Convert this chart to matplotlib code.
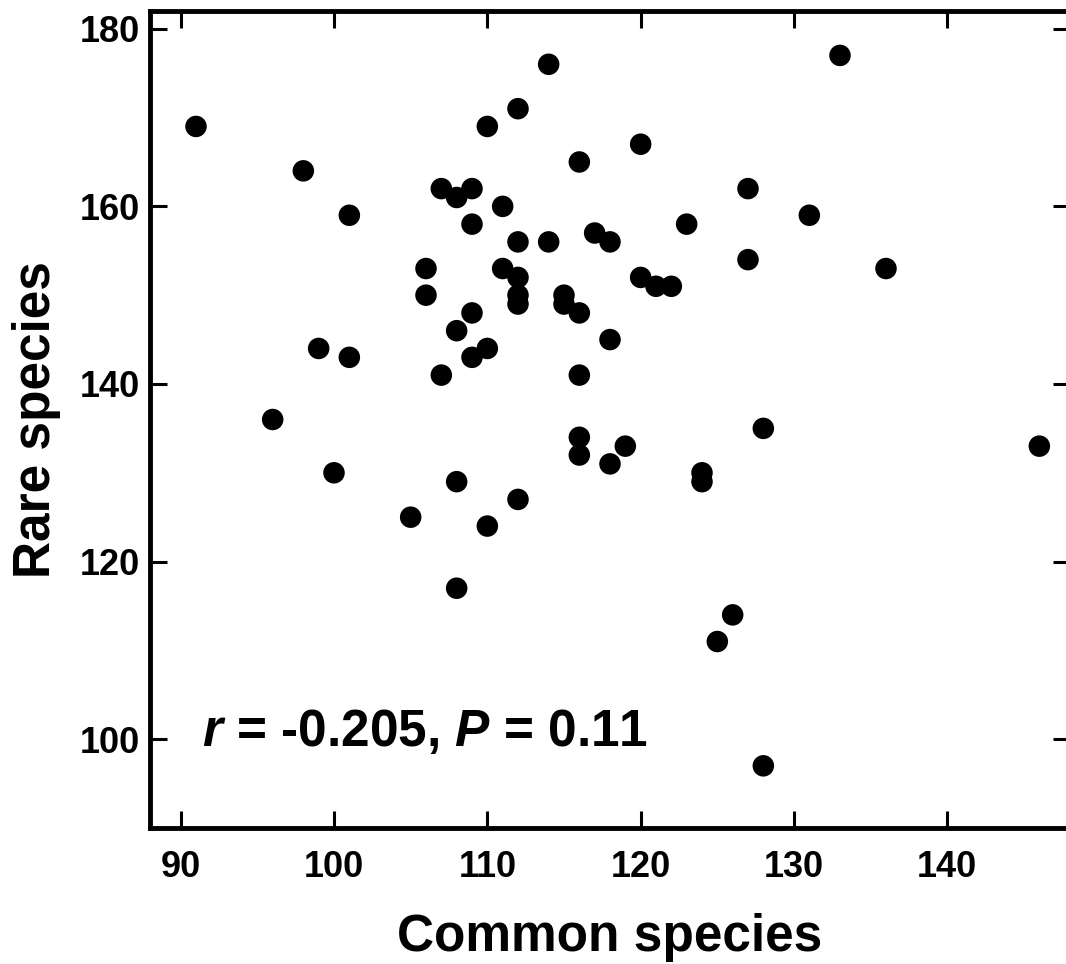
#!/usr/bin/env python3

# Rare vs common species richness scatter, with correlation note.
# Output: out.png

import matplotlib
matplotlib.use('Agg')
import matplotlib.pyplot as plt

common = [91, 98, 101, 96, 99, 101, 100, 105, 106, 106,
          107, 108, 109, 109, 107, 108, 109, 109, 110, 108,
          108, 110, 110, 111, 111, 112, 112, 112, 112, 112,
          112, 114, 114, 115, 115, 116, 116, 116, 116, 116,
          117, 118, 118, 118, 119, 120, 120, 121, 122, 123,
          124, 124, 125, 126, 127, 127, 128, 128, 131, 133,
          136, 146]
rare = [169, 164, 159, 136, 144, 143, 130, 125, 153, 150,
        162, 161, 162, 158, 141, 146, 148, 143, 144, 129,
        117, 124, 169, 160, 153, 171, 156, 152, 150, 149,
        127, 176, 156, 150, 149, 165, 148, 141, 134, 132,
        157, 156, 145, 131, 133, 167, 152, 151, 151, 158,
        130, 129, 111, 114, 162, 154, 135, 97, 159, 177,
        153, 133]

x_ticks = [90, 100, 110, 120, 130, 140]
y_ticks = [100, 120, 140, 160, 180]

stat_text = r'$\mathit{r}$ = -0.205, $\mathit{P}$ = 0.11'


def main():
  plt.rcParams['font.family'] = ['Liberation Sans', 'DejaVu Sans']
  plt.rcParams['font.weight'] = 'bold'
  plt.rcParams['mathtext.fontset'] = 'custom'
  plt.rcParams['mathtext.it'] = 'Liberation Sans:italic:bold'
  plt.rcParams['mathtext.rm'] = 'Liberation Sans:bold'

  fig = plt.figure(figsize=(10.66, 9.64), dpi=100)
  # axes box in pixels: left 150, right ~1070 (just past the edge), top 11, bottom 828
  ax = fig.add_axes([150 / 1066, 136 / 964, 920 / 1066, 817 / 964])

  ax.scatter(common, rare, s=240, color='black', edgecolors='none',
             zorder=3, clip_on=False)

  ax.set_xlim(88, 148)
  ax.set_ylim(90, 182)
  ax.set_xticks(x_ticks)
  ax.set_yticks(y_ticks)

  for side in ['left', 'bottom', 'top']:
    ax.spines[side].set_linewidth(3.5)
  ax.spines['right'].set_visible(False)

  ax.tick_params(axis='both', which='major', direction='in', length=12,
                 width=2.2, labelsize=26, top=True, right=True,
                 labeltop=False, labelright=False)
  ax.tick_params(axis='x', pad=16)
  ax.tick_params(axis='y', pad=7)

  ax.set_xlabel('Common species', fontsize=37, fontweight='bold', labelpad=20)
  ax.set_ylabel('Rare species', fontsize=37, fontweight='bold', labelpad=14)

  ax.text(91.4, 99.25, stat_text, fontsize=37, fontweight='bold',
          ha='left', va='baseline')

  plt.savefig('out.png', dpi=100)


if __name__ == '__main__':
  main()
